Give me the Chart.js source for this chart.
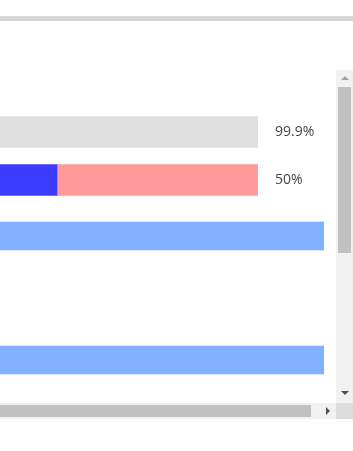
<!DOCTYPE html>
<html>
<head>
<meta charset="utf-8">
<script src="https://cdn.jsdelivr.net/npm/chart.js@4/dist/chart.umd.min.js"></script>
<style>
  html, body { margin: 0; padding: 0; background: #fff; width: 353px; height: 451px; overflow: hidden; }
  .topline { position: absolute; left: 0; top: 16px; width: 353px; height: 5px; background: #d6d6d6; }
  .view { position: absolute; left: 0; top: 70px; width: 336px; height: 333px; overflow: hidden; }
  .view canvas { position: absolute; }
  .sb { position: absolute; }
  .tri { position: absolute; width: 0; height: 0; }
</style>
</head>
<body>
<div class="topline"></div>
<div class="view">
  <canvas id="progressChart" width="502" height="97" style="left:-144px; top:37px;"></canvas>
  <canvas id="fullChart" width="468" height="186" style="left:-144px; top:135px;"></canvas>
</div>
<!-- fake scrollbars -->
<div class="sb" style="left:336px; top:70px; width:17px; height:333px; background:#f1f1f1;"></div>
<div class="tri" style="left:341px; top:76px; border-left:4px solid transparent; border-right:4px solid transparent; border-bottom:4px solid #a3a3a3;"></div>
<div class="sb" style="left:338px; top:87px; width:13px; height:166px; background:#c1c1c1;"></div>
<div class="tri" style="left:341px; top:391px; border-left:4px solid transparent; border-right:4px solid transparent; border-top:4px solid #505050;"></div>
<div class="sb" style="left:0; top:403px; width:336px; height:16px; background:#f1f1f1;"></div>
<div class="sb" style="left:0; top:405px; width:311px; height:12px; background:#c1c1c1;"></div>
<div class="tri" style="left:326px; top:407px; border-top:4px solid transparent; border-bottom:4px solid transparent; border-left:4px solid #505050;"></div>
<div class="sb" style="left:336px; top:403px; width:17px; height:16px; background:#dcdcdc;"></div>

<script>
// progress rows (top chart)
const progressRows = ['Row 1', 'Row 2'];
const progressTrack = [100, null];
const progressDone = [null, 50];
const progressLeft = [null, 50];
const progressText = ['99.9%', '50%'];

// full width rows (bottom chart)
const fullRows = ['Row 3', 'Row 4', 'Row 5'];
const fullValues = [100, null, 100];

// draws the percent text right of each bar
const endLabels = {
    id: 'endLabels',
    afterDatasetsDraw(chart) {
        const ctx = chart.ctx;
        const x = chart.scales.x.getPixelForValue(100) + 17;
        ctx.save();
        ctx.font = '14px "Open Sans"';
        ctx.fillStyle = '#444';
        ctx.textBaseline = 'middle';
        progressText.forEach(function(t, i) {
            ctx.fillText(t, x, chart.scales.y.getPixelForValue(i));
        });
        ctx.restore();
    }
};

new Chart(document.getElementById('progressChart'), {
    type: 'bar',
    data: {
        labels: progressRows,
        datasets: [
            { label: 'Track', data: progressTrack, backgroundColor: '#e0e0e0' },
            { label: 'Done', data: progressDone, backgroundColor: '#3c3cff' },
            { label: 'Left', data: progressLeft, backgroundColor: '#ff9a9a' }
        ]
    },
    options: {
        indexAxis: 'y',
        responsive: false,
        animation: false,
        barThickness: 31,
        layout: { padding: { top: 1, right: 100 } },
        plugins: { legend: { display: false }, tooltip: { enabled: false } },
        scales: {
            x: { stacked: true, min: 0, max: 100, display: false },
            y: { stacked: true, display: false }
        }
    },
    plugins: [endLabels]
});

new Chart(document.getElementById('fullChart'), {
    type: 'bar',
    data: {
        labels: fullRows,
        datasets: [{ label: 'Value', data: fullValues, backgroundColor: '#80b0ff' }]
    },
    options: {
        indexAxis: 'y',
        responsive: false,
        animation: false,
        barThickness: 28,
        plugins: { legend: { display: false }, tooltip: { enabled: false } },
        scales: {
            x: { min: 0, max: 100, display: false },
            y: { display: false }
        }
    }
});
</script>
</body>
</html>
